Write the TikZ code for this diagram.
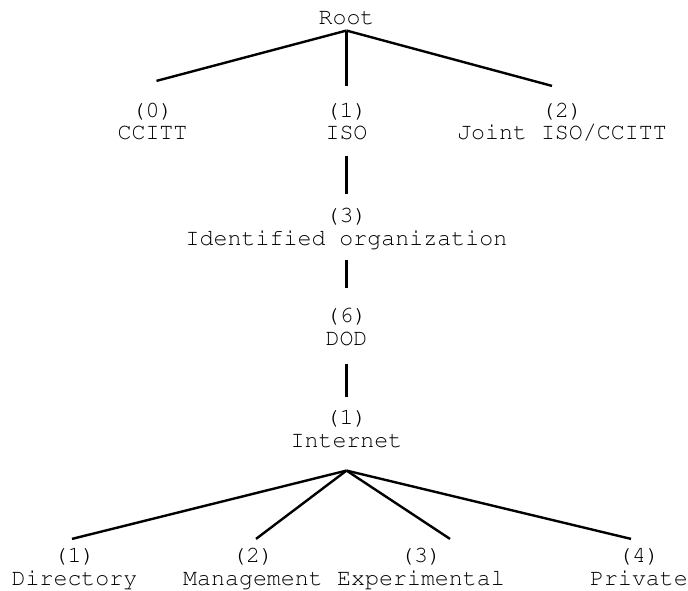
\documentclass[tikz,border=0pt]{standalone}
\usepackage[T1]{fontenc}
\usepackage{courier}
\tikzset{
  oid/.style={font=\ttfamily\fontsize{23.3}{23}\selectfont, align=center, inner sep=0pt, anchor=base},
  branch/.style={line width=2.4pt}
}
\begin{document}
\begin{tikzpicture}[x=1pt,y=-1pt]
\useasboundingbox (0,0) rectangle (688,591);
% top level
\node[oid] (root) at (346.5,25) {Root};
\node[oid] (ccitt) at (152.5,140) {(0)\\CCITT};
\node[oid] (iso) at (346.5,140) {(1)\\ISO};
\node[oid] (joint) at (562,140) {(2)\\Joint ISO/CCITT};
\draw[branch] ([yshift=-5pt]root.south) -- ([xshift=4pt,yshift=21pt]ccitt.north);
\draw[branch] ([yshift=-5pt]root.south) -- ([yshift=16pt]iso.north);
\draw[branch] ([yshift=-5pt]root.south) -- ([xshift=-10pt,yshift=16pt]joint.north);
% down the chain
\node[oid] (ident) at (346.5,245) {(3)\\Identified organization};
\node[oid] (dod) at (346.5,345) {(6)\\DOD};
\node[oid] (inet) at (346.5,447) {(1)\\Internet};
\draw[branch] ([yshift=-15pt]iso.south) -- ([yshift=13pt]ident.north);
\draw[branch] ([yshift=-11pt]ident.south) -- ([yshift=19pt]dod.north);
\draw[branch] ([yshift=-18pt]dod.south) -- ([yshift=12pt]inet.north);
% internet subtree
\node[oid] (dir) at (74.5,585) {(1)\\Directory};
\node[oid] (mgmt) at (253,585) {(2)\\Management};
\node[oid] (exp) at (421,585) {(3)\\Experimental};
\node[oid] (priv) at (639,585) {(4)\\Private};
\draw[branch] ([yshift=-23pt]inet.south) -- ([xshift=-2.5pt,yshift=8pt]dir.north);
\draw[branch] ([yshift=-23pt]inet.south) -- ([xshift=3pt,yshift=8pt]mgmt.north);
\draw[branch] ([yshift=-23pt]inet.south) -- ([xshift=29pt,yshift=8pt]exp.north);
\draw[branch] ([yshift=-23pt]inet.south) -- ([xshift=-8pt,yshift=8pt]priv.north);
\end{tikzpicture}
\end{document}
